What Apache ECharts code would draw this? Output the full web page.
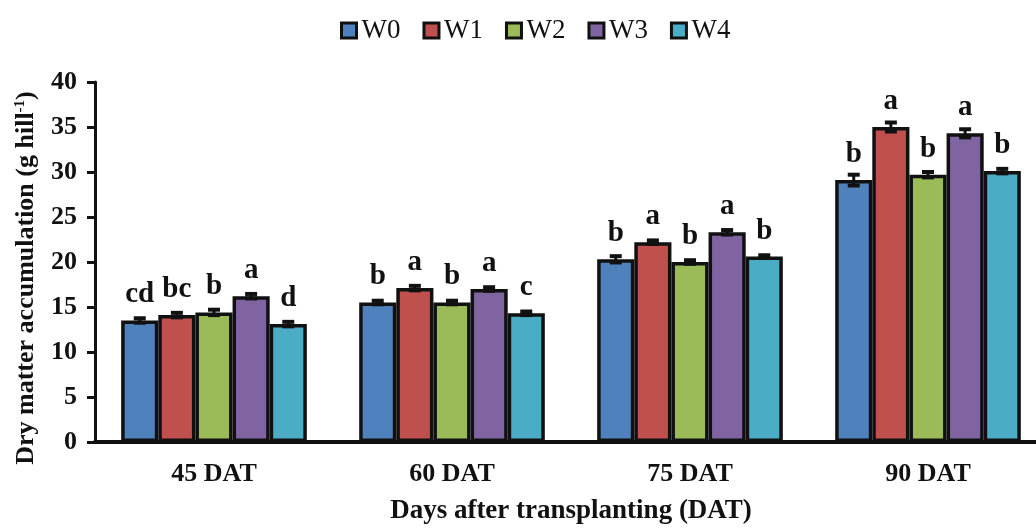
<!DOCTYPE html>
<html>
<head>
<meta charset="utf-8">
<script src="https://cdn.jsdelivr.net/npm/echarts@6/dist/echarts.min.js"></script>
<style>
  html, body { margin: 0; padding: 0; background: #fff; }
  #chart { width: 1036px; height: 529px; }
</style>
</head>
<body>
<div id="chart"></div>
<script>
// Sampling stages (days after transplanting)
const categories = ['45 DAT', '60 DAT', '75 DAT', '90 DAT'];
const seriesNames = ['W0', 'W1', 'W2', 'W3', 'W4'];

// Mean dry matter accumulation (g hill-1) per treatment
const W0 = [13.5, 15.5, 20.3, 29.1];
const W1 = [14.1, 17.1, 22.2, 35.0];
const W2 = [14.4, 15.5, 20.0, 29.7];
const W3 = [16.2, 17.0, 23.3, 34.3];
const W4 = [13.1, 14.3, 20.6, 30.1];

// Standard errors
const W0_err = [0.25, 0.2, 0.35, 0.6];
const W1_err = [0.25, 0.25, 0.2, 0.5];
const W2_err = [0.3, 0.2, 0.2, 0.3];
const W3_err = [0.25, 0.2, 0.25, 0.45];
const W4_err = [0.25, 0.2, 0.15, 0.25];

// Significance letters (DMRT)
const W0_sig = ['cd', 'b', 'b', 'b'];
const W1_sig = ['bc', 'a', 'a', 'a'];
const W2_sig = ['b', 'b', 'b', 'b'];
const W3_sig = ['a', 'a', 'a', 'a'];
const W4_sig = ['d', 'c', 'b', 'b'];

// Y-axis ticks
const yMin = 0, yMax = 40, yStep = 5;

const values = [W0, W1, W2, W3, W4];
const errors = [W0_err, W1_err, W2_err, W3_err, W4_err];
const letters = [W0_sig, W1_sig, W2_sig, W3_sig, W4_sig];
const colors = ['#4F81BD', '#C0504D', '#9BBB59', '#8064A2', '#4BACC6'];

const CATEGORY_GAP = 0.22;
const serif = '"Liberation Serif", "Times New Roman", serif';

const barSeries = values.map((vals, s) => ({
  name: seriesNames[s],
  type: 'bar',
  data: vals,
  barGap: '0%',
  barCategoryGap: (CATEGORY_GAP * 100) + '%',
  itemStyle: { color: colors[s], borderColor: '#111', borderWidth: 3.5 },
  label: {
    show: true,
    position: 'top',
    distance: 11,
    fontFamily: serif,
    fontWeight: 'bold',
    fontSize: 29,
    color: '#111',
    formatter: p => letters[s][p.dataIndex]
  },
  z: 2
}));

// Error bars drawn as I-beams centred on each bar
const errData = [];
values.forEach((vals, s) => {
  vals.forEach((v, i) => errData.push([i, v, errors[s][i], s]));
});

function renderErr(params, api) {
  const ci = api.value(0), v = api.value(1), e = api.value(2), s = api.value(3);
  const band = api.size([1, 0])[0];
  const bw = band * (1 - CATEGORY_GAP) / values.length;
  const cx = api.coord([ci, v])[0] + (s - (values.length - 1) / 2) * bw;
  const yTop = api.coord([ci, v + e])[1];
  const yBot = api.coord([ci, v - e])[1];
  const hw = 6;
  const st = { stroke: '#111', lineWidth: 3 };
  const cap = { stroke: '#111', lineWidth: 4 };
  return {
    type: 'group',
    children: [
      { type: 'line', shape: { x1: cx, y1: yTop, x2: cx, y2: yBot }, style: st },
      { type: 'line', shape: { x1: cx - hw, y1: yTop, x2: cx + hw, y2: yTop }, style: cap },
      { type: 'line', shape: { x1: cx - hw, y1: yBot, x2: cx + hw, y2: yBot }, style: cap }
    ]
  };
}

const chart = echarts.init(document.getElementById('chart'), null, { renderer: 'canvas' });
chart.setOption({
  backgroundColor: '#fff',
  animation: false,
  legend: {
    data: seriesNames,
    top: 12,
    left: 335,
    icon: 'rect',
    itemWidth: 15,
    itemHeight: 15,
    itemGap: 22,
    itemStyle: { borderColor: '#111', borderWidth: 3 },
    textStyle: { fontFamily: serif, fontSize: 27, color: '#111' }
  },
  grid: { left: 95, right: -11, top: 82, bottom: 87, outerBoundsMode: 'none' },
  xAxis: {
    type: 'category',
    data: categories,
    name: 'Days after transplanting (DAT)',
    nameLocation: 'middle',
    nameGap: 56,
    nameTextStyle: { fontFamily: serif, fontWeight: 'bold', fontSize: 27, color: '#111' },
    axisLine: { lineStyle: { color: '#111', width: 4 } },
    axisTick: { show: false },
    axisLabel: { fontFamily: serif, fontWeight: 'bold', fontSize: 26, color: '#111', margin: 19 },
    splitLine: { show: false }
  },
  yAxis: {
    type: 'value',
    min: yMin,
    max: yMax,
    interval: yStep,
    name: '{t|Dry matter accumulation (g hill}{s|-1}{t|)}',
    nameLocation: 'middle',
    nameRotate: 90,
    nameGap: 56,
    nameTextStyle: {
      padding: [0, 32, 0, 0],
      rich: {
        t: { fontFamily: serif, fontWeight: 'bold', fontSize: 26, color: '#111' },
        s: { fontFamily: serif, fontWeight: 'bold', fontSize: 15, color: '#111', verticalAlign: 'top' }
      }
    },
    axisLine: { show: true, lineStyle: { color: '#111', width: 3 } },
    axisTick: { show: true, length: 8, lineStyle: { color: '#111', width: 3 } },
    axisLabel: { fontFamily: serif, fontWeight: 'bold', fontSize: 26, color: '#111', margin: 18 },
    splitLine: { show: false }
  },
  series: barSeries.concat([{
    name: 'error',
    type: 'custom',
    renderItem: renderErr,
    data: errData,
    z: 5,
    silent: true
  }])
});
</script>
</body>
</html>
